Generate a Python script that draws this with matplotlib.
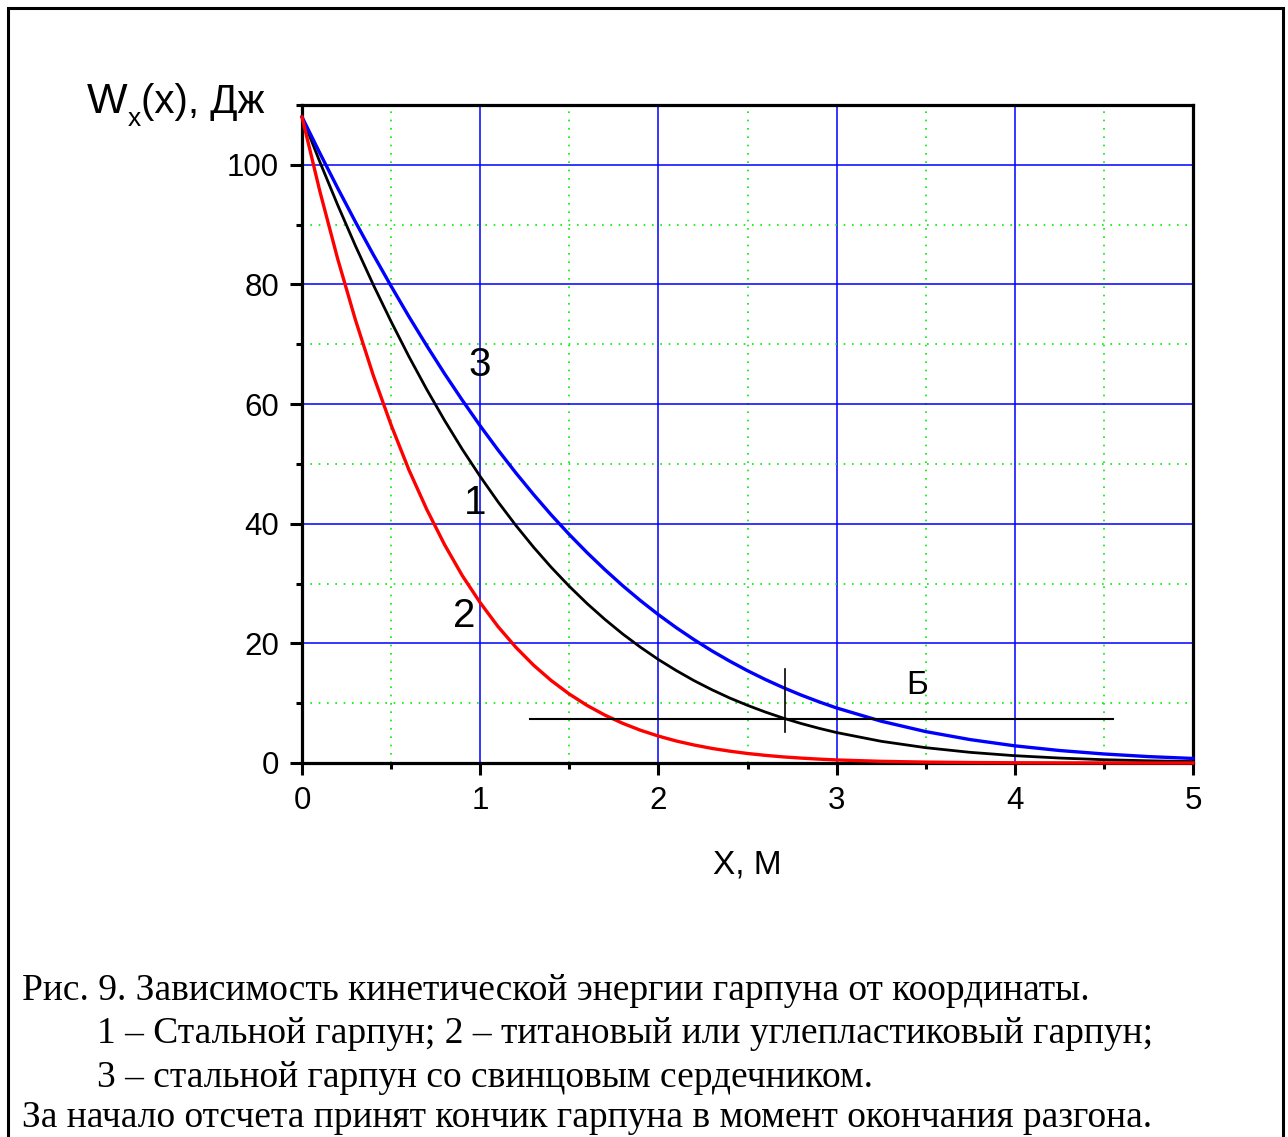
import numpy as np
import matplotlib
matplotlib.use("Agg")
import matplotlib.pyplot as plt
from matplotlib.patches import Rectangle
from matplotlib.ticker import MultipleLocator

plt.rcParams['font.family'] = ['Liberation Sans', 'DejaVu Sans']

#%% Data
x_dense = [0.0, 0.1, 0.2, 0.3, 0.4, 0.5, 0.6, 0.7, 0.8, 0.9,
           1.0, 1.1, 1.2, 1.3, 1.4, 1.5, 1.6, 1.7, 1.8, 1.9,
           2.0, 2.1, 2.2, 2.3, 2.4, 2.5, 2.6, 2.7, 2.8, 2.9,
           3.0, 3.25, 3.5, 3.75, 4.0, 4.25, 4.5, 4.75, 5.0]

# 1 - steel harpoon
w_steel = [108.0, 100.5, 93.3, 86.45, 79.95, 73.8, 67.95, 62.45, 57.27, 52.42,
           47.9, 43.66, 39.72, 36.06, 32.67, 29.54, 26.65, 24.0, 21.56, 19.34,
           17.3, 15.46, 13.77, 12.25, 10.87, 9.64, 8.52, 7.51, 6.61, 5.81,
           5.09, 3.63, 2.56, 1.78, 1.22, 0.83, 0.55, 0.37, 0.24]

# 2 - titanium / carbon harpoon
w_titan = [108.0, 95.6, 84.3, 74.06, 64.8, 56.5, 49.0, 42.4, 36.5, 31.3,
           26.8, 22.8, 19.35, 16.34, 13.75, 11.53, 9.62, 8.0, 6.63, 5.47,
           4.5, 3.68, 3.01, 2.44, 1.98, 1.59, 1.28, 1.02, 0.82, 0.65,
           0.51, 0.28, 0.15, 0.08, 0.04, 0.02, 0.01, 0.0, 0.0]

# 3 - steel harpoon with lead core
w_lead = [108.0, 101.97, 96.12, 90.45, 84.99, 79.72, 74.63, 69.76, 65.08, 60.63,
          56.36, 52.33, 48.5, 44.87, 41.43, 38.2, 35.16, 32.31, 29.63, 27.13,
          24.8, 22.63, 20.62, 18.75, 17.03, 15.43, 13.96, 12.61, 11.37, 10.24,
          9.2, 6.99, 5.25, 3.91, 2.87, 2.09, 1.51, 1.07, 0.76]

# marker "Б"
b_hline_x = [1.28, 4.55]
b_hline_y = [7.3, 7.3]
b_vline_x = [2.71, 2.71]
b_vline_y = [5.2, 15.7]

caption = ["Рис. 9. Зависимость кинетической энергии гарпуна от координаты.",
           "1 – Стальной гарпун; 2 – титановый или углепластиковый гарпун;",
           "3 – стальной гарпун со свинцовым сердечником.",
           "За начало отсчета принят кончик гарпуна в момент окончания разгона."]

#%% Figure
W, H = 1288, 1137
fig = plt.figure(figsize=(W / 100, H / 100), dpi=100)
ax = fig.add_axes([302 / W, 1 - 763 / H, (1193 - 302) / W, (763 - 105) / H])

ax.set_xlim(0, 5)
ax.set_ylim(0, 110)
ax.xaxis.set_major_locator(MultipleLocator(1))
ax.xaxis.set_minor_locator(MultipleLocator(0.5))
ax.yaxis.set_major_locator(MultipleLocator(20))
ax.yaxis.set_minor_locator(MultipleLocator(10))

ax.grid(which='major', color='#0000FF', linestyle='-', linewidth=1.1)
ax.grid(which='minor', color='#00EE00', linestyle=(0, (1, 4)), linewidth=1.2)
ax.set_axisbelow(True)

for s in ax.spines.values():
    s.set_linewidth(2.3)
ax.tick_params(which='major', direction='out', length=8.5, width=2.2,
               labelsize=22.5, pad=8)
ax.tick_params(which='minor', direction='out', length=4.5, width=2.2)
ax.tick_params(top=False, right=False, which='both')

ax.plot(x_dense, w_steel, color='black', lw=2.0, zorder=3, clip_on=False)
ax.plot(x_dense, w_lead, color='#0000FF', lw=2.4, zorder=3, clip_on=False)
ax.plot(x_dense, w_titan, color='#FF0000', lw=2.4, zorder=3, clip_on=False)

ax.plot(b_hline_x, b_hline_y, color='black', lw=1.5, zorder=3)
ax.plot(b_vline_x, b_vline_y, color='black', lw=1.2, zorder=3)

ax.text(1.0, 66.5, '3', fontsize=29, ha='center', va='center')
ax.text(0.97, 43.5, '1', fontsize=29, ha='center', va='center')
ax.text(0.91, 24.5, '2', fontsize=29, ha='center', va='center')
ax.text(3.45, 13.0, 'Б', fontsize=24, ha='center', va='center')

# y axis title: W with subscript x
fig.text(87 / W, 1 - 113 / H, 'W', fontsize=31, ha='left', va='baseline')
fig.text(128 / W, 1 - 126 / H, 'x', fontsize=19, ha='left', va='baseline')
fig.text(141 / W, 1 - 113 / H, '(x), Дж', fontsize=29, ha='left', va='baseline')
fig.text(747 / W, 1 - 873 / H, 'Х, М', fontsize=24, ha='center', va='baseline')

# caption
cap_x = [22, 97, 97, 22]
cap_y = [1000, 1043, 1087, 1127]
for txt, cx, cy in zip(caption, cap_x, cap_y):
    fig.text(cx / W, 1 - cy / H, txt, fontsize=27, ha='left', va='baseline',
             family=['Liberation Serif', 'DejaVu Serif'])

# frame around whole figure
fig.add_artist(Rectangle((8 / W, -0.05), (1283 - 8) / W, 1.05 - 8 / H,
                         transform=fig.transFigure, fill=False,
                         edgecolor='black', linewidth=2.2))

fig.savefig('out.png', dpi=100)
